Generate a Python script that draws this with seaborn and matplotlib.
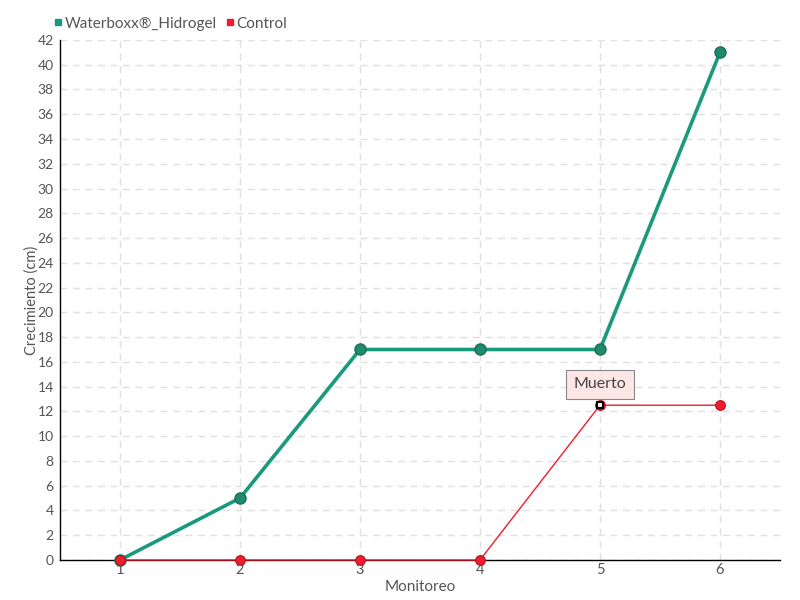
import matplotlib.pyplot as plt
import numpy as np
import pandas as pd
import seaborn as sb

sb.set_style("white")
plt.rcParams['font.family'] = ['Lato', 'DejaVu Sans']

monitoreo = [1, 2, 3, 4, 5, 6]
waterboxx = [0, 5, 17, 17, 17, 41]
control = [0, 0, 0, 0, 12.5, 12.5]
series_names = ["Waterboxx®_Hidrogel", "Control"]
y_ticks = list(range(0, 43, 2))

df = pd.DataFrame({
    "Monitoreo": monitoreo * 2,
    "Crecimiento": waterboxx + control,
    "Serie": [series_names[0]] * 6 + [series_names[1]] * 6,
})

fig = plt.figure(figsize=(8, 6), dpi=100)
ax = fig.add_axes([0.075, 0.0667, 0.9, 0.8667])

green = "#1a9a7c"
red = "#ee1c2c"

wb = df[df["Serie"] == series_names[0]]
ct = df[df["Serie"] == series_names[1]]
sb.lineplot(data=wb, x="Monitoreo", y="Crecimiento", ax=ax, color=green, lw=2.6,
            marker="o", markersize=8, markerfacecolor="#1f8a6c",
            markeredgecolor="#1d6e56", markeredgewidth=1, zorder=4, clip_on=False)
sb.lineplot(data=ct, x="Monitoreo", y="Crecimiento", ax=ax, color=red, lw=1,
            marker="o", markersize=7, markerfacecolor=red,
            markeredgecolor="#c0101e", markeredgewidth=0.8, zorder=5, clip_on=False)

# highlighted point with tooltip
ax.plot(monitoreo[4], control[4], marker="s", markersize=5, markerfacecolor="white",
        markeredgecolor="black", markeredgewidth=1.5, zorder=6)
ax.annotate("Muerto", xy=(monitoreo[4], control[4]), xytext=(0, 15),
            textcoords="offset points", ha="center", va="center", fontsize=11.5,
            color="#444444",
            bbox=dict(boxstyle="square,pad=0.45", fc="#fde6e6", ec="#888888", lw=0.8),
            zorder=7)

ax.set_xlim(0.5, 6.5)
ax.set_ylim(0, 42)
ax.set_xticks(monitoreo)
ax.set_yticks(y_ticks)
ax.grid(True, color="#e0e0e0", linestyle=(0, (5, 4)), lw=1)
for s in ["top", "right"]:
    ax.spines[s].set_visible(False)
for s in ["left", "bottom"]:
    ax.spines[s].set_color("black")
    ax.spines[s].set_linewidth(1)
ax.tick_params(axis="both", direction="out", length=4, width=1, colors="black",
               labelcolor="#555555", labelsize=10.5)
ax.tick_params(axis="x", pad=-2)
ax.tick_params(axis="y", pad=0.5, labelsize=10)
ax.set_xlabel("Monitoreo", fontsize=11, color="#555555", labelpad=2)
ax.set_ylabel("Crecimiento (cm)", fontsize=10.5, color="#555555")
ax.yaxis.set_label_coords(-0.029, 0.5)

handles = [plt.Line2D([], [], marker="s", color=c, lw=0, markersize=5) for c in [green, red]]
fig.legend(handles, series_names, loc="upper left", bbox_to_anchor=(0.05, 0.995),
           ncol=2, frameon=False, fontsize=11, handletextpad=0.1, columnspacing=0.6,
           labelcolor="#555555", handlelength=0.6)

fig.savefig("out.png", dpi=100)
